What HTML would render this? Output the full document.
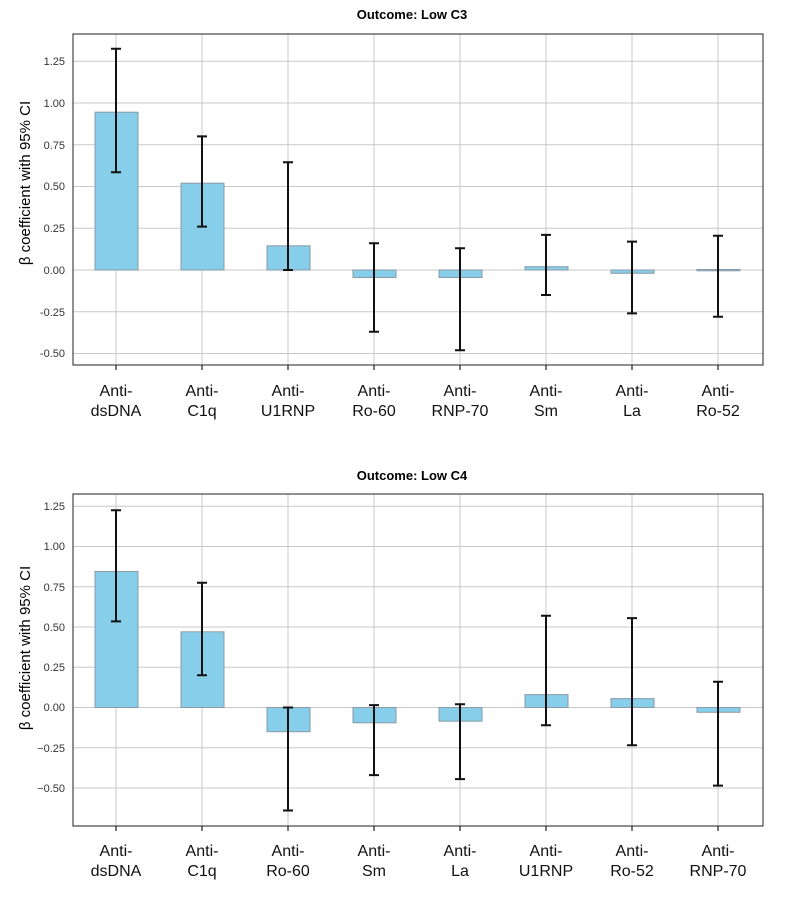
<!DOCTYPE html>
<html><head><meta charset="utf-8"><style>body{margin:0;background:#fff}svg{display:block}</style></head><body>
<svg width="788" height="902" xmlns="http://www.w3.org/2000/svg" font-family="Liberation Sans, DejaVu Sans, sans-serif">
<!-- TOP CHART -->
<text x="412" y="19" font-size="13" font-weight="bold" text-anchor="middle">Outcome: Low C3</text>
<g stroke="#c8c8c8" stroke-width="1">
<line x1="73" x2="763" y1="61.25" y2="61.25"/><line x1="73" x2="763" y1="103" y2="103"/><line x1="73" x2="763" y1="144.75" y2="144.75"/><line x1="73" x2="763" y1="186.5" y2="186.5"/><line x1="73" x2="763" y1="228.25" y2="228.25"/><line x1="73" x2="763" y1="270" y2="270"/><line x1="73" x2="763" y1="311.75" y2="311.75"/><line x1="73" x2="763" y1="353.5" y2="353.5"/>
<line x1="116" x2="116" y1="34" y2="365"/><line x1="202" x2="202" y1="34" y2="365"/><line x1="288" x2="288" y1="34" y2="365"/><line x1="374" x2="374" y1="34" y2="365"/><line x1="460" x2="460" y1="34" y2="365"/><line x1="546" x2="546" y1="34" y2="365"/><line x1="632" x2="632" y1="34" y2="365"/><line x1="718" x2="718" y1="34" y2="365"/>
</g>
<g fill="#87ceeb" stroke="#8a9aa6" stroke-width="1">
<rect x="95" y="112.2" width="43" height="157.8"/>
<rect x="181" y="183.2" width="43" height="86.8"/>
<rect x="267" y="245.8" width="43" height="24.2"/>
<rect x="353" y="270" width="43" height="7.5"/>
<rect x="439" y="270" width="43" height="7.5"/>
<rect x="525" y="266.7" width="43" height="3.3"/>
<rect x="611" y="270" width="43" height="3.3"/>
<rect x="697" y="269.5" width="43" height="1.3"/>
</g>
<g stroke="#111" stroke-width="2">
<path d="M116 48.7V172.3M111 48.7h10M111 172.3h10"/>
<path d="M202 136.4V226.6M197 136.4h10M197 226.6h10"/>
<path d="M288 162.3V270M283 162.3h10M283 270h10"/>
<path d="M374 243.3V331.8M369 243.3h10M369 331.8h10"/>
<path d="M460 248.3V350.2M455 248.3h10M455 350.2h10"/>
<path d="M546 234.9V295M541 234.9h10M541 295h10"/>
<path d="M632 241.6V313.4M627 241.6h10M627 313.4h10"/>
<path d="M718 235.8V316.8M713 235.8h10M713 316.8h10"/>
</g>
<rect x="73" y="34" width="690" height="331" fill="none" stroke="#222" stroke-width="1"/>
<g stroke="#222" stroke-width="1.2">
<path d="M116 365v5M202 365v5M288 365v5M374 365v5M460 365v5M546 365v5M632 365v5M718 365v5"/>
</g>
<g font-size="11" fill="#333" text-anchor="end">
<text x="65" y="65">1.25</text><text x="65" y="107">1.00</text><text x="65" y="149">0.75</text><text x="65" y="190">0.50</text><text x="65" y="232">0.25</text><text x="65" y="274">0.00</text><text x="65" y="316">-0.25</text><text x="65" y="357">-0.50</text>
</g>
<text transform="translate(30,183) rotate(-90)" font-size="15" text-anchor="middle">β coefficient with 95% CI</text>
<g font-size="16" text-anchor="middle" fill="#111">
<text x="116" y="396">Anti-</text><text x="116" y="416">dsDNA</text>
<text x="202" y="396">Anti-</text><text x="202" y="416">C1q</text>
<text x="288" y="396">Anti-</text><text x="288" y="416">U1RNP</text>
<text x="374" y="396">Anti-</text><text x="374" y="416">Ro-60</text>
<text x="460" y="396">Anti-</text><text x="460" y="416">RNP-70</text>
<text x="546" y="396">Anti-</text><text x="546" y="416">Sm</text>
<text x="632" y="396">Anti-</text><text x="632" y="416">La</text>
<text x="718" y="396">Anti-</text><text x="718" y="416">Ro-52</text>
</g>
<!-- BOTTOM CHART -->
<text x="412" y="480" font-size="13" font-weight="bold" text-anchor="middle">Outcome: Low C4</text>
<g stroke="#c8c8c8" stroke-width="1">
<line x1="73" x2="763" y1="506.25" y2="506.25"/><line x1="73" x2="763" y1="546.5" y2="546.5"/><line x1="73" x2="763" y1="586.75" y2="586.75"/><line x1="73" x2="763" y1="627" y2="627"/><line x1="73" x2="763" y1="667.25" y2="667.25"/><line x1="73" x2="763" y1="707.5" y2="707.5"/><line x1="73" x2="763" y1="747.75" y2="747.75"/><line x1="73" x2="763" y1="788" y2="788"/>
<line x1="116" x2="116" y1="494" y2="826"/><line x1="202" x2="202" y1="494" y2="826"/><line x1="288" x2="288" y1="494" y2="826"/><line x1="374" x2="374" y1="494" y2="826"/><line x1="460" x2="460" y1="494" y2="826"/><line x1="546" x2="546" y1="494" y2="826"/><line x1="632" x2="632" y1="494" y2="826"/><line x1="718" x2="718" y1="494" y2="826"/>
</g>
<g fill="#87ceeb" stroke="#8a9aa6" stroke-width="1">
<rect x="95" y="571.5" width="43" height="136"/>
<rect x="181" y="631.8" width="43" height="75.7"/>
<rect x="267" y="707.5" width="43" height="24.2"/>
<rect x="353" y="707.5" width="43" height="15.3"/>
<rect x="439" y="707.5" width="43" height="13.7"/>
<rect x="525" y="694.6" width="43" height="12.9"/>
<rect x="611" y="698.6" width="43" height="8.9"/>
<rect x="697" y="707.5" width="43" height="4.8"/>
</g>
<g stroke="#111" stroke-width="2">
<path d="M116 510.3V621.4M111 510.3h10M111 621.4h10"/>
<path d="M202 582.7V675.3M197 582.7h10M197 675.3h10"/>
<path d="M288 707.5V810.5M283 707.5h10M283 810.5h10"/>
<path d="M374 705.1V775.1M369 705.1h10M369 775.1h10"/>
<path d="M460 704.3V779.1M455 704.3h10M455 779.1h10"/>
<path d="M546 615.7V725.2M541 615.7h10M541 725.2h10"/>
<path d="M632 618.1V745.3M627 618.1h10M627 745.3h10"/>
<path d="M718 681.7V785.6M713 681.7h10M713 785.6h10"/>
</g>
<rect x="73" y="494" width="690" height="332" fill="none" stroke="#222" stroke-width="1"/>
<g stroke="#222" stroke-width="1.2">
<path d="M116 826v5M202 826v5M288 826v5M374 826v5M460 826v5M546 826v5M632 826v5M718 826v5"/>
</g>
<g font-size="11" fill="#333" text-anchor="end">
<text x="65" y="510">1.25</text><text x="65" y="550">1.00</text><text x="65" y="591">0.75</text><text x="65" y="631">0.50</text><text x="65" y="671">0.25</text><text x="65" y="711">0.00</text><text x="65" y="752">−0.25</text><text x="65" y="792">−0.50</text>
</g>
<text transform="translate(30,648) rotate(-90)" font-size="15" text-anchor="middle">β coefficient with 95% CI</text>
<g font-size="16" text-anchor="middle" fill="#111">
<text x="116" y="856">Anti-</text><text x="116" y="876">dsDNA</text>
<text x="202" y="856">Anti-</text><text x="202" y="876">C1q</text>
<text x="288" y="856">Anti-</text><text x="288" y="876">Ro-60</text>
<text x="374" y="856">Anti-</text><text x="374" y="876">Sm</text>
<text x="460" y="856">Anti-</text><text x="460" y="876">La</text>
<text x="546" y="856">Anti-</text><text x="546" y="876">U1RNP</text>
<text x="632" y="856">Anti-</text><text x="632" y="876">Ro-52</text>
<text x="718" y="856">Anti-</text><text x="718" y="876">RNP-70</text>
</g>
</svg>
</body></html>
